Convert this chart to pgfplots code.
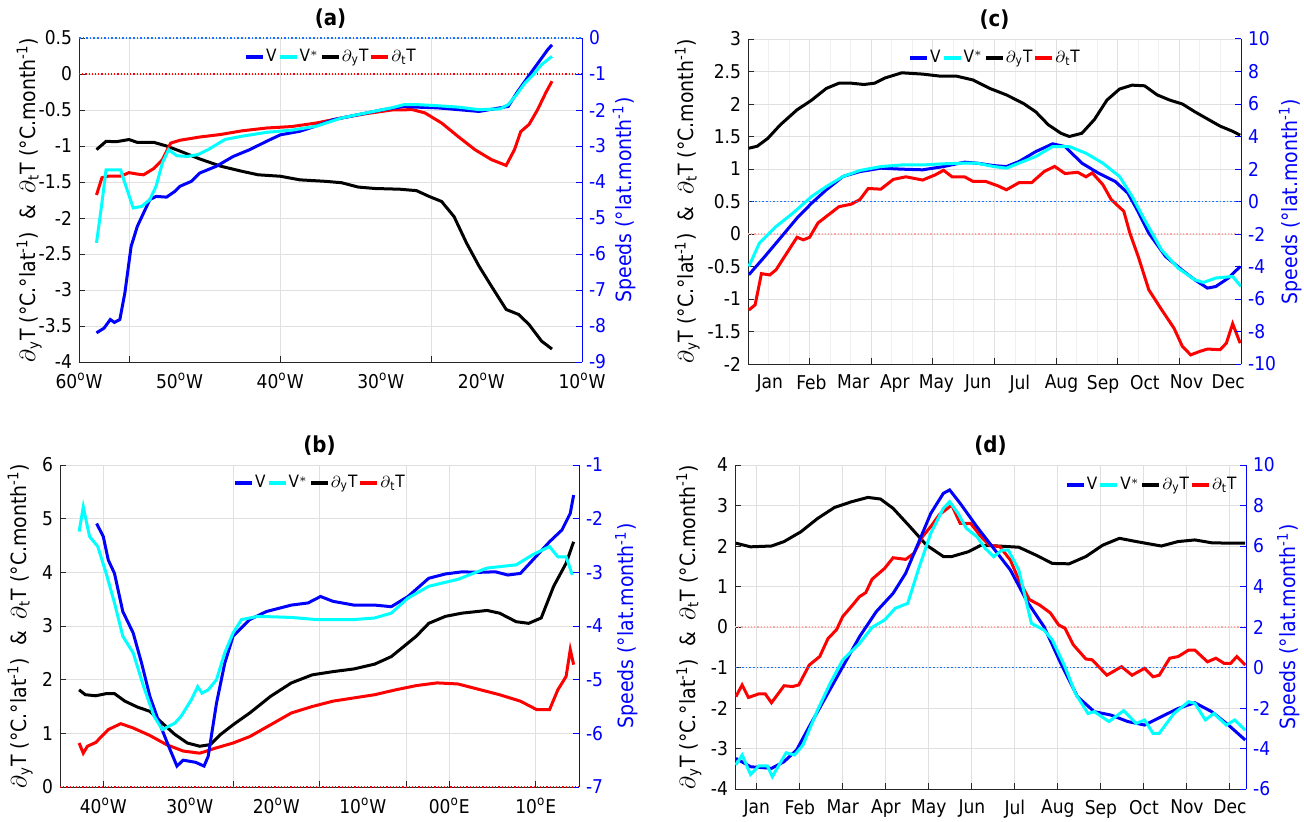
\documentclass[border=0pt]{standalone}
\usepackage{fontspec}
\setmainfont{DejaVu Sans Condensed}
\usepackage{pgfplots}
\pgfplotsset{compat=1.18}
\definecolor{gridc}{gray}{0.88}
\definecolor{mgridc}{gray}{0.94}
\definecolor{axc}{gray}{0.15}
\definecolor{dotblue}{rgb}{0.1,0.45,1}
\definecolor{cy}{rgb}{0,1,1}
\definecolor{bl}{rgb}{0,0,1}
\definecolor{rd}{rgb}{1,0,0}
\pgfplotsset{
  base/.style={scale only axis, anchor=south west,
    /pgf/number format/assume math mode=true,
    /pgf/number format/fixed,
    tick label style={font=\fontsize{9.5}{10}\selectfont},
    label style={font=\fontsize{10.5}{12}\selectfont},
    tick align=inside, major tick length=3pt, minor tick length=0pt,
    every axis title/.style={at={(0.5,1)}, anchor=south, yshift=1.5pt, font=\bfseries\fontsize{11}{12}\selectfont},
  },
  leftax/.style={base, axis x line*=bottom, axis y line*=left,
    axis line style={axc, line width=0.5pt}, tick style={axc, line width=0.5pt},
    xmajorgrids, ymajorgrids, grid style={gridc, line width=0.5pt},
    xticklabel shift=2pt,
    ylabel style={at={(axis description cs:#1,0.5)}, anchor=south, inner sep=0pt},
  },
  rightax/.style={base, axis x line=none, axis y line*=right,
    y axis line style={bl, line width=0.5pt}, ytick style={bl, line width=0.5pt},
    yticklabel style={bl},
    ylabel style={bl, at={(axis description cs:#1,0.5)}, anchor=north, inner sep=0pt},
    legend columns=4,
    legend style={draw=none, fill=none, font=\fontsize{8.5}{9}\selectfont, inner sep=0pt, column sep=0pt, nodes={inner sep=0.5pt}},
    legend image code/.code={\draw[##1, line width=2pt] (0pt,0pt) -- (8.5pt,0pt);},
  },
}
\newcommand{\lefttext}{$\partial$\textsubscript{y}T (°C.°lat\textsuperscript{-1})\ \ \&\ \ $\partial$\textsubscript{t}T (°C.month\textsuperscript{-1})}
\newcommand{\righttext}{Speeds (°lat.month\textsuperscript{-1})}
\newcommand{\dg}{\textsuperscript{o}}
\begin{document}
\begin{tikzpicture}
\path[use as bounding box] (0,0) rectangle (652pt,410.5pt);
% ---------------- (a) ----------------
\begin{axis}[leftax=-0.0736, at={(39.5pt,229.5pt)}, width=251.5pt, height=162pt,
  xmin=-60, xmax=-10, ymin=-4, ymax=0.5, clip=false,
  xtick={-55,-40,-25,-10}, xticklabels={,,,,,},
  extra x ticks={-60,-50,-40,-30,-20,-10},
  extra x tick labels={60\dg W,50\dg W,40\dg W,30\dg W,20\dg W,10\dg W},
  extra x tick style={grid=none, major tick length=0pt},
  ytick={-4,-3.5,-3,-2.5,-2,-1.5,-1,-0.5,0,0.5},
  ylabel={\lefttext}, title={(a)}]
\addplot[rd, densely dotted, line width=0.6pt, forget plot] coordinates {(-60,0) (-10,0)};
\addplot[black, line width=1.5pt] coordinates {(-58.26,-1.05) (-57.31,-0.935) (-56.27,-0.94) (-55.03,-0.91) (-54.20,-0.95) (-52.54,-0.95) (-51.30,-1.0) (-49.97,-1.07) (-47.99,-1.18) (-45.92,-1.28) (-43.84,-1.35) (-42.19,-1.40) (-39.99,-1.42) (-38.04,-1.47) (-35.56,-1.49) (-33.90,-1.51) (-32.25,-1.57) (-30.59,-1.59) (-28.10,-1.60) (-26.45,-1.62) (-25.20,-1.70) (-23.96,-1.77) (-22.72,-1.98) (-21.47,-2.35) (-20.23,-2.67) (-18.99,-2.95) (-17.54,-3.27) (-16.30,-3.34) (-15.26,-3.48) (-14.02,-3.71) (-12.98,-3.82)};
\addplot[rd, line width=1.5pt] coordinates {(-58.26,-1.68) (-57.72,-1.44) (-57.10,-1.42) (-55.86,-1.42) (-55.03,-1.37) (-54.20,-1.39) (-53.58,-1.40) (-52.54,-1.31) (-51.71,-1.19) (-50.89,-0.96) (-49.97,-0.92) (-47.99,-0.875) (-45.92,-0.84) (-43.84,-0.79) (-41.36,-0.75) (-38.87,-0.73) (-36.39,-0.68) (-33.90,-0.61) (-31.42,-0.55) (-28.93,-0.50) (-26.86,-0.495) (-25.62,-0.54) (-23.96,-0.68) (-22.30,-0.87) (-20.65,-1.05) (-18.99,-1.19) (-17.54,-1.27) (-16.71,-1.05) (-16.09,-0.80) (-15.26,-0.70) (-14.43,-0.50) (-13.60,-0.26) (-12.98,-0.10)};
\end{axis}
\begin{axis}[rightax=1.06, at={(39.5pt,229.5pt)}, width=251.5pt, height=162pt,
  xmin=-60, xmax=-10, ymin=-9, ymax=0, clip=false,
  ytick={-9,-8,-7,-6,-5,-4,-3,-2,-1,0},
  ylabel={\righttext},
  legend style={at={(axis description cs:0.5,0.941)}, anchor=center}]
\addplot[dotblue, densely dotted, line width=0.8pt, forget plot] coordinates {(-60,0) (-10,0)};
\addplot[bl, line width=1.5pt] coordinates {(-58.26,-8.19) (-57.51,-8.06) (-56.89,-7.82) (-56.48,-7.90) (-55.94,-7.82) (-55.44,-7.08) (-54.82,-5.79) (-54.20,-5.23) (-53.58,-4.86) (-52.96,-4.49) (-52.34,-4.40) (-51.30,-4.42) (-50.47,-4.26) (-49.97,-4.12) (-48.82,-3.98) (-47.99,-3.75) (-46.33,-3.56) (-44.67,-3.29) (-43.02,-3.10) (-41.36,-2.87) (-39.99,-2.69) (-38.04,-2.59) (-36.39,-2.44) (-34.73,-2.27) (-32.25,-2.13) (-29.76,-1.99) (-27.69,-1.90) (-26.45,-1.92) (-24.37,-1.94) (-22.30,-1.99) (-20.23,-2.04) (-18.16,-1.94) (-17.33,-1.90) (-16.50,-1.53) (-15.67,-1.20) (-14.85,-0.88) (-14.02,-0.56) (-13.40,-0.32) (-12.98,-0.19)};
\addlegendentry{V}
\addplot[cy, line width=1.5pt] coordinates {(-58.26,-5.69) (-57.72,-4.58) (-57.31,-3.66) (-55.86,-3.66) (-55.44,-4.03) (-54.61,-4.72) (-53.79,-4.68) (-52.96,-4.49) (-52.34,-4.12) (-51.71,-3.47) (-51.09,-3.10) (-50.27,-3.27) (-49.23,-3.29) (-48.19,-3.24) (-47.16,-3.10) (-45.50,-2.82) (-43.84,-2.73) (-41.36,-2.62) (-38.87,-2.56) (-36.39,-2.45) (-33.90,-2.22) (-31.42,-2.08) (-28.93,-1.94) (-27.69,-1.85) (-26.45,-1.85) (-24.37,-1.88) (-22.30,-1.92) (-20.23,-1.99) (-18.16,-1.97) (-17.33,-1.85) (-16.50,-1.57) (-15.67,-1.25) (-14.85,-1.02) (-14.02,-0.74) (-13.40,-0.60) (-12.98,-0.51)};
\addlegendentry{V$^{*}$}
\addlegendimage{black}
\addlegendentry{$\partial$\textsubscript{y}T}
\addlegendimage{rd}
\addlegendentry{$\partial$\textsubscript{t}T}
\end{axis}
% ---------------- (c) ----------------
\begin{axis}[leftax=-0.097, at={(374pt,228.5pt)}, width=246.5pt, height=162.5pt,
  xmin=0, xmax=360, ymin=-2, ymax=3,
  xtick={0,45,...,360}, xticklabels={,,,,,,,,,,}, minor x tick num=2, xminorgrids, minor grid style={mgridc, line width=0.5pt},
  extra x ticks={15.9,46.3,76.8,107.2,137.6,168.1,198.5,228.9,259.3,289.8,320.2,350.6},
  extra x tick labels={Jan,Feb,Mar,Apr,May,Jun,Jul,Aug,Sep,Oct,Nov,Dec},
  extra x tick style={grid=none, major tick length=0pt},
  ytick={-2,-1.5,-1,-0.5,0,0.5,1,1.5,2,2.5,3},
  ylabel={\lefttext}, title={(c)}]
\addplot[rd!35, densely dotted, line width=0.6pt, forget plot] coordinates {(0,0) (360,0)};
\addplot[black, line width=1.5pt] coordinates {(0.6,1.32) (6.7,1.35) (14.4,1.47) (23.6,1.68) (35.8,1.91) (46.5,2.06) (57.2,2.24) (66.4,2.32) (75.5,2.32) (84.7,2.30) (92.4,2.32) (100.0,2.40) (112.3,2.48) (127.5,2.46) (139.8,2.43) (152.0,2.43) (164.2,2.37) (176.5,2.24) (188.7,2.14) (201.0,2.01) (210.1,1.88) (219.3,1.68) (228.5,1.55) (234.6,1.50) (243.8,1.55) (252.9,1.76) (262.1,2.06) (271.3,2.23) (280.5,2.29) (289.6,2.28) (298.8,2.14) (308.0,2.06) (317.2,2.00) (326.3,1.88) (335.5,1.77) (344.7,1.66) (353.9,1.58) (359.4,1.52)};
\addplot[rd, line width=1.5pt] coordinates {(0.6,-1.17) (5.2,-1.09) (9.8,-0.61) (15.9,-0.63) (20.5,-0.55) (26.6,-0.35) (35.8,-0.05) (40.4,-0.09) (45.0,-0.05) (51.1,0.17) (57.2,0.27) (66.4,0.42) (75.5,0.46) (81.7,0.53) (87.8,0.70) (97.0,0.69) (106.1,0.84) (115.3,0.88) (127.5,0.83) (136.7,0.91) (142.8,0.98) (149.0,0.88) (158.1,0.88) (164.2,0.81) (173.4,0.81) (182.6,0.74) (188.7,0.68) (197.9,0.79) (207.1,0.79) (216.2,0.96) (223.9,1.04) (231.5,0.93) (240.7,0.95) (246.8,0.88) (251.4,0.94) (259.1,0.76) (265.2,0.53) (274.4,0.35) (278.9,0.01) (285.0,-0.35) (292.7,-0.86) (301.9,-1.16) (311.1,-1.45) (317.2,-1.73) (323.3,-1.86) (329.4,-1.81) (335.5,-1.77) (344.7,-1.78) (349.3,-1.68) (353.9,-1.38) (359.4,-1.68)};
\end{axis}
\begin{axis}[rightax=1.076, at={(374pt,228.5pt)}, width=246.5pt, height=162.5pt,
  xmin=0, xmax=360, ymin=-10, ymax=10,
  ytick={-10,-8,-6,-4,-2,0,2,4,6,8,10},
  ylabel={\righttext},
  legend style={at={(axis description cs:0.5,0.942)}, anchor=center}]
\addplot[dotblue, densely dotted, line width=0.8pt, forget plot] coordinates {(0,0) (360,0)};
\addplot[bl, line width=1.5pt] coordinates {(0.6,-4.51) (11.3,-3.48) (23.6,-2.25) (35.8,-1.02) (46.5,-0.10) (57.2,0.72) (69.4,1.54) (81.7,1.84) (97.0,2.05) (112.3,1.99) (127.5,1.95) (142.8,2.15) (158.1,2.42) (167.3,2.36) (179.5,2.21) (188.7,2.15) (197.9,2.46) (210.1,3.07) (222.4,3.55) (231.5,3.38) (243.8,2.36) (256.0,1.74) (268.2,1.23) (277.4,0.51) (283.5,-0.41) (292.7,-1.95) (304.9,-3.38) (317.2,-4.24) (326.3,-4.82) (335.5,-5.33) (341.6,-5.23) (350.8,-4.71) (359.4,-4.00)};
\addlegendentry{V}
\addplot[cy, line width=1.5pt] coordinates {(0.6,-4.00) (8.3,-2.56) (20.5,-1.54) (32.7,-0.72) (46.5,0.31) (57.2,0.92) (69.4,1.54) (81.7,1.91) (97.0,2.15) (112.3,2.25) (127.5,2.25) (142.8,2.32) (158.1,2.36) (167.3,2.36) (179.5,2.15) (188.7,2.05) (197.9,2.36) (210.1,2.77) (222.4,3.38) (234.6,3.38) (246.8,2.97) (259.1,2.36) (271.3,1.54) (280.5,0.31) (289.6,-1.13) (301.9,-2.97) (314.1,-4.10) (326.3,-4.82) (332.5,-4.98) (341.6,-4.71) (353.9,-4.61) (360.0,-5.23)};
\addlegendentry{V$^{*}$}
\addlegendimage{black}
\addlegendentry{$\partial$\textsubscript{y}T}
\addlegendimage{rd}
\addlegendentry{$\partial$\textsubscript{t}T}
\end{axis}
% ---------------- (b) ----------------
\begin{axis}[leftax=-0.052, at={(30pt,17pt)}, width=259.5pt, height=161pt,
  xmin=-45, xmax=15, ymin=0, ymax=6, clip=false,
  xtick={-40,-25,-15,-5,0,10}, xticklabels={,,,,,,},
  extra x ticks={-40,-30,-20,-10,0,10},
  extra x tick labels={40\dg W,30\dg W,20\dg W,10\dg W,00\dg E,10\dg E},
  extra x tick style={grid=none, major tick length=0pt},
  ytick={0,1,2,3,4,5,6},
  ylabel={\lefttext}, title={(b)}]
\addplot[rd, densely dotted, line width=0.6pt, forget plot] coordinates {(-45,0) (15,0)};
\addplot[black, line width=1.5pt] coordinates {(-42.79,1.81) (-42.07,1.72) (-40.87,1.70) (-39.66,1.74) (-38.70,1.74) (-37.50,1.60) (-36.05,1.49) (-34.61,1.41) (-33.17,1.19) (-31.72,0.98) (-30.28,0.82) (-28.84,0.76) (-27.63,0.79) (-26.43,0.98) (-24.99,1.16) (-23.06,1.38) (-20.65,1.69) (-18.25,1.94) (-15.84,2.09) (-13.44,2.15) (-11.03,2.20) (-8.62,2.29) (-6.70,2.43) (-5.25,2.62) (-3.81,2.81) (-2.37,3.05) (-0.44,3.18) (1.48,3.24) (4.37,3.29) (5.81,3.24) (7.74,3.08) (9.18,3.05) (10.63,3.15) (12.07,3.74) (13.51,4.17) (14.38,4.57)};
\addplot[rd, line width=1.5pt] coordinates {(-42.79,0.82) (-42.31,0.63) (-41.83,0.76) (-40.87,0.83) (-39.42,1.07) (-37.98,1.18) (-36.54,1.10) (-34.61,0.96) (-32.69,0.79) (-30.76,0.67) (-28.84,0.63) (-26.91,0.73) (-24.99,0.82) (-23.06,0.94) (-20.65,1.16) (-18.25,1.38) (-15.84,1.50) (-13.44,1.60) (-11.03,1.66) (-8.62,1.72) (-6.22,1.81) (-3.81,1.89) (-1.41,1.94) (1.00,1.92) (3.41,1.82) (5.81,1.72) (8.22,1.60) (10.14,1.44) (11.59,1.44) (12.55,1.81) (13.51,2.06) (13.99,2.56) (14.38,2.28)};
\end{axis}
\begin{axis}[rightax=1.069, at={(30pt,17pt)}, width=259.5pt, height=161pt,
  xmin=-45, xmax=15, ymin=-7, ymax=-1,
  ytick={-7,-6,-5,-4,-3,-2,-1},
  ylabel={\righttext},
  legend style={at={(axis description cs:0.5,0.944)}, anchor=center}]
\addplot[bl, line width=1.5pt] coordinates {(-40.77,-2.09) (-40.00,-2.33) (-39.42,-2.77) (-38.70,-3.02) (-37.74,-3.73) (-36.54,-4.13) (-35.57,-4.69) (-34.61,-5.31) (-33.65,-5.75) (-32.44,-6.24) (-31.48,-6.61) (-30.76,-6.50) (-29.32,-6.54) (-28.35,-6.61) (-27.87,-6.43) (-26.91,-5.44) (-25.95,-4.69) (-24.99,-4.19) (-23.06,-3.88) (-21.14,-3.73) (-18.25,-3.61) (-16.32,-3.57) (-14.88,-3.45) (-13.44,-3.54) (-11.03,-3.61) (-8.62,-3.61) (-6.70,-3.64) (-4.77,-3.45) (-2.37,-3.11) (-0.44,-3.03) (1.48,-2.99) (3.41,-3.00) (5.33,-2.99) (6.78,-3.05) (8.22,-3.02) (9.66,-2.77) (11.59,-2.43) (13.03,-2.21) (13.99,-1.90) (14.38,-1.56)};
\addlegendentry{V}
\addplot[cy, line width=1.5pt] coordinates {(-42.79,-2.24) (-42.31,-1.78) (-41.59,-2.33) (-40.63,-2.52) (-39.66,-3.02) (-38.70,-3.57) (-37.74,-4.19) (-36.54,-4.50) (-35.33,-5.13) (-34.13,-5.68) (-33.17,-5.93) (-31.72,-5.81) (-31.00,-5.68) (-29.80,-5.37) (-29.08,-5.13) (-28.59,-5.25) (-27.87,-5.19) (-26.91,-5.00) (-25.95,-4.50) (-24.99,-4.13) (-24.02,-3.88) (-22.10,-3.82) (-18.25,-3.84) (-15.36,-3.88) (-11.03,-3.88) (-8.62,-3.85) (-6.70,-3.76) (-4.77,-3.48) (-2.37,-3.26) (1.00,-3.13) (4.37,-2.92) (7.74,-2.86) (9.66,-2.67) (11.59,-2.52) (12.55,-2.71) (13.51,-2.71) (14.23,-3.05)};
\addlegendentry{V$^{*}$}
\addlegendimage{black}
\addlegendentry{$\partial$\textsubscript{y}T}
\addlegendimage{rd}
\addlegendentry{$\partial$\textsubscript{t}T}
\end{axis}
% ---------------- (d) ----------------
\begin{axis}[leftax=-0.065, at={(367.5pt,16pt)}, width=255.5pt, height=162pt,
  xmin=0.493, xmax=12.374, ymin=-4, ymax=4,
  xtick={1,2,3,4,5,6,7,8,9,10,11,12},
  xticklabels={Jan,Feb,Mar,Apr,May,Jun,Jul,Aug,Sep,Oct,Nov,Dec},
  ytick={-4,-3,-2,-1,0,1,2,3,4},
  ylabel={\lefttext}, title={(d)}]
\addplot[rd!35, densely dotted, line width=0.6pt, forget plot] coordinates {(0.493,0) (12.374,0)};
\addplot[black, line width=1.5pt] coordinates {(0.513,2.07) (0.854,1.98) (1.341,2.00) (1.634,2.11) (2.023,2.35) (2.413,2.68) (2.803,2.95) (3.193,3.09) (3.583,3.20) (3.875,3.16) (4.168,2.93) (4.558,2.48) (4.947,2.02) (5.337,1.74) (5.532,1.74) (5.922,1.86) (6.214,2.02) (6.604,2.00) (7.092,1.97) (7.481,1.78) (7.871,1.57) (8.261,1.56) (8.651,1.74) (9.041,2.02) (9.431,2.19) (9.821,2.11) (10.405,2.00) (10.795,2.11) (11.185,2.15) (11.575,2.08) (11.965,2.07) (12.355,2.07)};
\addplot[rd, line width=1.5pt] coordinates {(0.513,-1.72) (0.659,-1.43) (0.805,-1.74) (1.049,-1.65) (1.195,-1.65) (1.341,-1.87) (1.634,-1.45) (1.828,-1.47) (1.975,-1.43) (2.218,-0.94) (2.462,-0.73) (2.657,-0.28) (2.852,-0.07) (2.998,0.26) (3.193,0.50) (3.388,0.75) (3.534,0.85) (3.680,1.18) (3.973,1.45) (4.168,1.71) (4.460,1.67) (4.655,1.82) (4.850,2.23) (5.045,2.48) (5.240,2.77) (5.532,3.01) (5.727,2.56) (5.971,2.56) (6.214,2.23) (6.409,2.02) (6.653,1.98) (6.897,1.65) (7.092,1.16) (7.335,0.68) (7.579,0.54) (7.823,0.35) (8.018,0.05) (8.164,-0.03) (8.359,-0.44) (8.651,-0.79) (8.797,-0.81) (9.138,-1.19) (9.480,-0.98) (9.723,-1.19) (10.016,-1.02) (10.211,-1.23) (10.357,-1.19) (10.600,-0.77) (10.795,-0.73) (11.039,-0.57) (11.185,-0.57) (11.478,-0.86) (11.673,-0.77) (11.868,-0.90) (12.014,-0.90) (12.160,-0.73) (12.355,-0.94)};
\end{axis}
\begin{axis}[rightax=1.06, at={(367.5pt,16pt)}, width=255.5pt, height=162pt,
  xmin=0.493, xmax=12.374, ymin=-6, ymax=10,
  ytick={-6,-4,-2,0,2,4,6,8,10},
  ylabel={\righttext},
  legend style={at={(axis description cs:0.984,0.938)}, anchor=east}]
\addplot[dotblue, densely dotted, line width=0.8pt, forget plot] coordinates {(0.493,0) (12.374,0)};
\addplot[bl, line width=1.5pt] coordinates {(0.513,-4.49) (0.854,-4.90) (1.341,-4.98) (1.634,-4.65) (1.926,-4.07) (2.218,-2.92) (2.608,-1.44) (2.998,0.04) (3.388,1.52) (3.778,2.76) (4.168,3.66) (4.460,4.65) (4.752,6.13) (5.045,7.61) (5.337,8.60) (5.483,8.77) (5.727,8.11) (6.117,6.95) (6.507,5.88) (6.897,4.81) (7.287,3.25) (7.676,2.02) (8.066,0.21) (8.456,-1.44) (8.846,-2.18) (9.236,-2.35) (9.626,-2.67) (10.016,-2.84) (10.405,-2.43) (10.795,-2.02) (11.185,-1.74) (11.575,-2.18) (11.965,-2.84) (12.355,-3.58)};
\addlegendentry{V}
\addplot[cy, line width=1.5pt] coordinates {(0.513,-4.81) (0.659,-4.32) (0.854,-5.28) (1.049,-4.86) (1.244,-4.86) (1.361,-5.39) (1.682,-4.21) (1.877,-4.32) (2.072,-3.83) (2.413,-2.10) (2.706,-0.78) (2.998,0.37) (3.388,1.19) (3.680,1.98) (3.973,2.35) (4.216,2.92) (4.509,3.17) (4.752,4.81) (5.045,6.63) (5.337,7.86) (5.483,8.19) (5.678,7.61) (5.873,6.87) (6.117,6.46) (6.312,5.88) (6.507,5.47) (6.702,5.80) (6.848,5.80) (7.092,4.81) (7.384,2.18) (7.676,1.85) (7.871,1.36) (8.164,0.04) (8.407,-1.28) (8.700,-2.27) (8.846,-2.18) (9.187,-2.67) (9.528,-2.13) (9.821,-2.76) (10.016,-2.59) (10.211,-3.25) (10.357,-3.25) (10.698,-2.27) (11.039,-1.69) (11.185,-1.77) (11.429,-2.59) (11.624,-2.27) (11.916,-2.84) (12.111,-2.59) (12.355,-3.09)};
\addlegendentry{V$^{*}$}
\addlegendimage{black}
\addlegendentry{$\partial$\textsubscript{y}T}
\addlegendimage{rd}
\addlegendentry{$\partial$\textsubscript{t}T}
\end{axis}
\end{tikzpicture}
\end{document}
